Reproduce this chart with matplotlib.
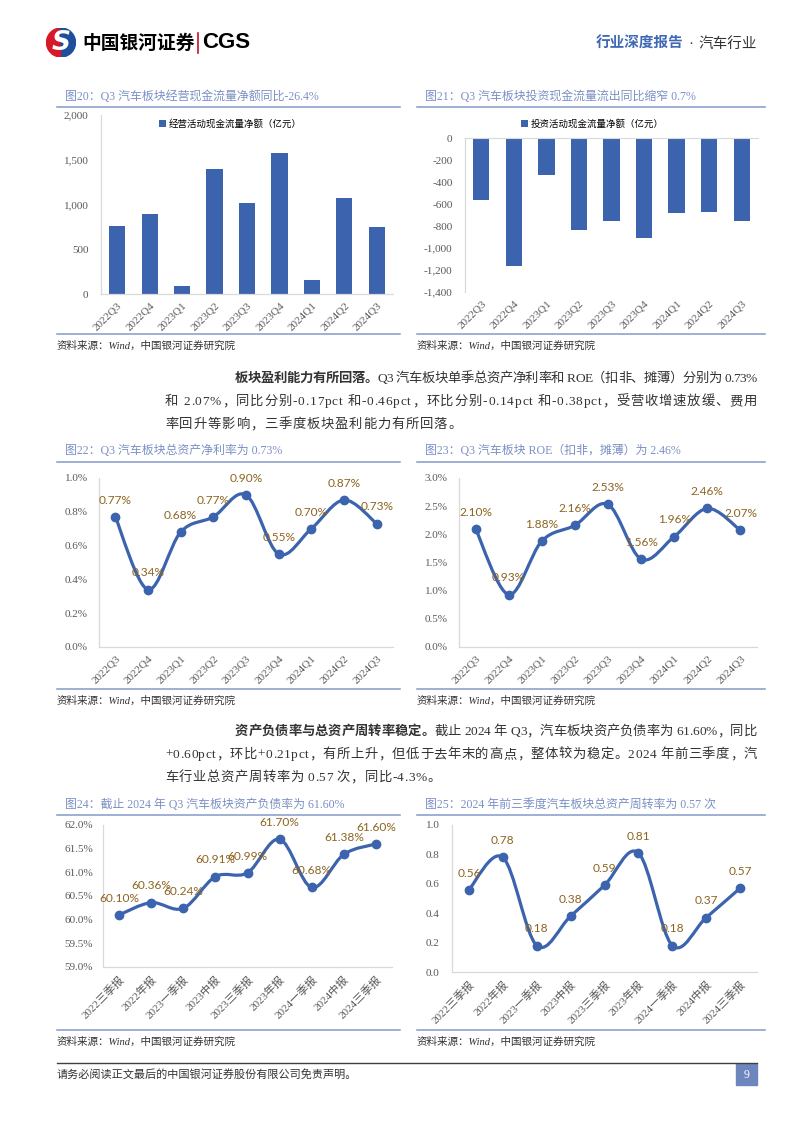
import numpy as np
import matplotlib
matplotlib.use('Agg')
import matplotlib.pyplot as plt
from matplotlib.path import Path
from matplotlib.patches import PathPatch, Rectangle, Wedge
from matplotlib.font_manager import FontProperties
from matplotlib.lines import Line2D

# ---- data ----
quarters = ['2022Q3', '2022Q4', '2023Q1', '2023Q2', '2023Q3', '2023Q4', '2024Q1', '2024Q2', '2024Q3']
reports = ['2022三季报', '2022年报', '2023一季报', '2023中报', '2023三季报',
           '2023年报', '2024一季报', '2024中报', '2024三季报']
op_cash = [760, 890, 92, 1395, 1015, 1575, 155, 1068, 750]
inv_cash = [-565, -1168, -335, -839, -757, -910, -682, -676, -752]
roa = [0.77, 0.34, 0.68, 0.77, 0.90, 0.55, 0.70, 0.87, 0.73]
roe = [2.10, 0.93, 1.88, 2.16, 2.53, 1.56, 1.96, 2.46, 2.07]
debt_ratio = [60.10, 60.36, 60.24, 60.91, 60.99, 61.70, 60.68, 61.38, 61.60]
turnover = [0.56, 0.78, 0.18, 0.38, 0.59, 0.81, 0.18, 0.37, 0.57]

W, H = 794, 1123
CJK = 'Noto Sans CJK SC'
SERIF = ['Liberation Serif', CJK]
BLUE = '#3C63AE'
LABEL_C = '#8C6420'
TICK_C = '#595959'
AXIS_C = '#D9D9D9'
RULE_C = '#8599C9'
TITLE_C = '#7A90C4'
TEXT_C = '#333333'

fig = plt.figure(figsize=(W / 100, H / 100), dpi=100)
renderer = fig.canvas.get_renderer()


def px_axes(l, t, r, b):
    return fig.add_axes([l / W, 1 - b / H, (r - l) / W, (b - t) / H])


def ftext(x, y, s, **kw):
    return fig.text(x / W, 1 - y / H, s, **kw)


def hline(x0, x1, y, color, lw):
    fig.add_artist(Line2D([x0 / W, x1 / W], [1 - y / H, 1 - y / H],
                          color=color, lw=lw, transform=fig.transFigure))


def style(ax, ylim, yticks, yfmt, labels, ypad=8):
    ax.set_xlim(-0.5, 8.5)
    ax.set_ylim(*ylim)
    ax.set_yticks(yticks)
    ax.set_yticklabels([yfmt.format(v) for v in yticks], fontsize=8, color=TICK_C, family=SERIF)
    ax.set_xticks(range(len(labels)))
    ax.set_xticklabels(labels, rotation=45, ha='right', rotation_mode='anchor',
                       fontsize=8, color=TICK_C, family=SERIF)
    ax.tick_params(length=0)
    ax.tick_params(axis='y', pad=ypad)
    ax.tick_params(axis='x', pad=5)
    for s in ['top', 'right']:
        ax.spines[s].set_visible(False)
    for s in ['left', 'bottom']:
        ax.spines[s].set_color(AXIS_C)
        ax.spines[s].set_linewidth(0.9)
    ax.patch.set_alpha(0)


def smooth_line(ax, ys, fmt):
    xs = np.arange(len(ys), dtype=float)
    P = np.column_stack([xs, np.asarray(ys, float)])
    ext = np.vstack([P[0], P, P[-1]])
    verts = [P[0]]
    codes = [Path.MOVETO]
    for i in range(len(P) - 1):
        c1 = P[i] + (ext[i + 2] - ext[i]) / 6
        c2 = P[i + 1] - (ext[i + 3] - ext[i + 1]) / 6
        verts += [c1, c2, P[i + 1]]
        codes += [Path.CURVE4] * 3
    ax.add_patch(PathPatch(Path(verts, codes), fill=False, ec=BLUE, lw=2.3,
                           capstyle='round', joinstyle='round', zorder=3))
    ax.plot(xs, P[:, 1], 'o', color=BLUE, ms=6, zorder=4)
    for x, v in zip(xs, ys):
        ax.annotate(fmt.format(v), (x, v), xytext=(0, 12), textcoords='offset points',
                    ha='center', va='center', fontsize=8.6, color=LABEL_C,
                    family='Lato', zorder=6)


def frame(x0, x1, y_title, y_rule, y_bottom, title):
    ftext(x0 + 8, y_title, title, fontsize=8.6, color=TITLE_C, family=SERIF, va='center')
    hline(x0, x1, y_rule, RULE_C, 1.1)
    hline(x0, x1, y_bottom, RULE_C, 1.1)
    ftext(x0, y_bottom + 12, '资料来源：Wind，中国银河证券研究院', fontsize=7.6,
          color=TEXT_C, family=SERIF, style='italic', va='center')


def adv(ch, fp):
    w2 = renderer.get_text_width_height_descent('||', fp, ismath=False)[0]
    w3 = renderer.get_text_width_height_descent('|' + ch + '|', fp, ismath=False)[0]
    return w3 - w2


def para_line(segs, x0, y, x1=None, gap=0.0, size=9.6):
    items = []
    for s, wt in segs:
        fp = FontProperties(family=SERIF, size=size, weight=wt)
        for ch in s:
            items.append((ch, fp, adv(ch, fp)))
    if x1 is not None:
        natural = sum(w for _, _, w in items)
        gap = (x1 - x0 - natural) / (len(items) - 1)
    x = x0
    for ch, fp, w in items:
        if ch != ' ':
            fig.text(x / W, 1 - (y + 4) / H, ch, fontproperties=fp, color=TEXT_C,
                     va='baseline', ha='left')
        x += w + gap
    return gap


# ---- header ----
lg = px_axes(44, 28, 78, 57)
lg.set_xlim(-1, 1)
lg.set_ylim(-1, 1)
lg.set_aspect('equal')
lg.axis('off')
lg.add_patch(Wedge((0, 0), 1, 95, 285, color='#D6182A'))
lg.add_patch(Wedge((0, 0), 1, -85, 95, color='#1E4E9C'))
lg.text(0.02, -0.05, 'S', fontsize=19, color='white', fontweight='bold', style='italic',
        ha='center', va='center', family='DejaVu Sans')
ftext(82, 43, '中国银河证券', fontsize=13.5, fontweight='bold', family=CJK, va='center')
fig.add_artist(Line2D([198 / W, 198 / W], [1 - 33 / H, 1 - 53 / H], color='#C8102E', lw=1.2,
                      transform=fig.transFigure))
ftext(202, 43, 'CGS', fontsize=16, fontweight='bold', family='Liberation Sans', va='center')
ftext(684, 44, '行业深度报告', fontsize=10.5, fontweight='bold', color='#3F68B5', family=SERIF,
      va='center', ha='right')
ftext(691, 44, '·', fontsize=10.5, color=TEXT_C, family=SERIF, va='center', ha='center')
ftext(757, 44, '汽车行业', fontsize=10.5, color=TEXT_C, family=SERIF, va='center', ha='right')

# ---- chart 20 ----
frame(57, 400, 97, 107, 334, '图20：Q3 汽车板块经营现金流量净额同比-26.4%')
ax = px_axes(101, 115, 393, 294)
ax.bar(range(9), op_cash, width=0.5, color=BLUE, label='经营活动现金流量净额（亿元）')
style(ax, (0, 2000), [0, 500, 1000, 1500, 2000], '{:,.0f}', quarters, ypad=9)
ax.legend(loc='center', bbox_to_anchor=((230 - 101) / 292, 1 - (124 - 115) / 179), frameon=False,
          prop=FontProperties(family=CJK, size=6.8), handlelength=0.8, handleheight=0.8,
          handletextpad=0.2, borderpad=0)

# ---- chart 21 ----
frame(417, 765, 97, 107, 334, '图21：Q3 汽车板块投资现金流量流出同比缩窄 0.7%')
ax = px_axes(465, 138, 758, 292)
ax.bar(range(9), inv_cash, width=0.5, color=BLUE, label='投资活动现金流量净额（亿元）')
style(ax, (-1400, 0), list(range(-1400, 1, 200)), '{:,.0f}', quarters, ypad=9)
ax.spines['bottom'].set_visible(False)
ax.spines['top'].set_visible(True)
ax.spines['top'].set_color(AXIS_C)
ax.legend(loc='center', bbox_to_anchor=((592 - 465) / 293, 1 + (138 - 124) / 154), frameon=False,
          prop=FontProperties(family=CJK, size=6.8), handlelength=0.8, handleheight=0.8,
          handletextpad=0.2, borderpad=0)

# ---- paragraph 1 ----
g = para_line([('板块盈利能力有所回落。', 'bold'),
               ('Q3 汽车板块单季总资产净利率和 ROE（扣非、摊薄）分别为 0.73%', 'normal')], 235, 378, 757)
g = para_line([('和 2.07%，同比分别-0.17pct 和-0.46pct，环比分别-0.14pct 和-0.38pct，受营收增速放缓、费用', 'normal')],
              165, 401, 757)
para_line([('率回升等影响，三季度板块盈利能力有所回落。', 'normal')], 165, 424, gap=g)

# ---- chart 22 ----
frame(57, 400, 451, 462, 689, '图22：Q3 汽车板块总资产净利率为 0.73%')
ax = px_axes(99, 478, 393, 647)
style(ax, (0, 1.0), [0, 0.2, 0.4, 0.6, 0.8, 1.0], '{:.1f}%', quarters, ypad=8)
smooth_line(ax, roa, '{:.2f}%')

# ---- chart 23 ----
frame(417, 765, 451, 462, 689, '图23：Q3 汽车板块 ROE（扣非，摊薄）为 2.46%')
ax = px_axes(459, 478, 757, 647)
style(ax, (0, 3.0), [0, 0.5, 1.0, 1.5, 2.0, 2.5, 3.0], '{:.1f}%', quarters, ypad=8)
smooth_line(ax, roe, '{:.2f}%')

# ---- paragraph 2 ----
g = para_line([('资产负债率与总资产周转率稳定。', 'bold'),
               ('截止 2024 年 Q3，汽车板块资产负债率为 61.60%，同比', 'normal')], 235, 731, 757)
g = para_line([('+0.60pct，环比+0.21pct，有所上升，但低于去年末的高点，整体较为稳定。2024 年前三季度，汽', 'normal')],
              165, 754, 757)
para_line([('车行业总资产周转率为 0.57 次，同比-4.3%。', 'normal')], 165, 777, gap=g)

# ---- chart 24 ----
frame(57, 400, 805, 815, 1030, '图24：截止 2024 年 Q3 汽车板块资产负债率为 61.60%')
ax = px_axes(103, 825, 392, 967)
style(ax, (59.0, 62.0), [59.0, 59.5, 60.0, 60.5, 61.0, 61.5, 62.0], '{:.1f}%', reports, ypad=7)
smooth_line(ax, debt_ratio, '{:.2f}%')

# ---- chart 25 ----
frame(417, 765, 805, 815, 1030, '图25：2024 年前三季度汽车板块总资产周转率为 0.57 次')
ax = px_axes(452, 825, 757, 972)
style(ax, (0, 1.0), [0, 0.2, 0.4, 0.6, 0.8, 1.0], '{:.1f}', reports, ypad=9)
smooth_line(ax, turnover, '{:.2f}')

# ---- footer ----
hline(57, 757, 1063, '#404040', 1.0)
ftext(57, 1075, '请务必阅读正文最后的中国银河证券股份有限公司免责声明。', fontsize=8,
      color=TEXT_C, family=CJK, va='center')
fig.add_artist(Rectangle((736 / W, 1 - 1085 / H), 21 / W, 21 / H, color='#6E86BE',
                         transform=fig.transFigure))
ftext(746.5, 1075, '9', fontsize=8.5, color='white', family=SERIF, va='center', ha='center')

fig.savefig('out.png', dpi=100)
